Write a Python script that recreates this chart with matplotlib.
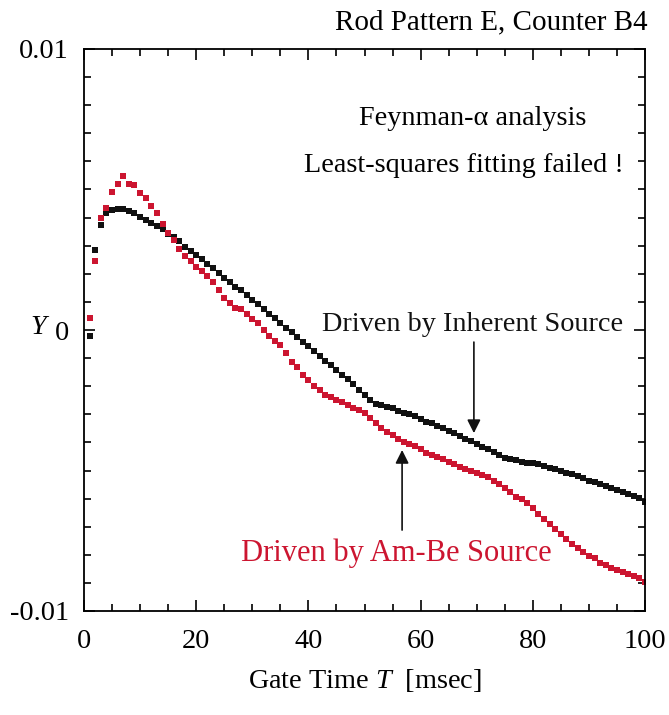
import matplotlib
matplotlib.use("Agg")
import matplotlib.pyplot as plt
from matplotlib.ticker import MultipleLocator, FixedLocator

plt.rcParams['font.family'] = ['Liberation Serif', 'DejaVu Serif']
plt.rcParams['mathtext.fontset'] = 'custom'
plt.rcParams['mathtext.it'] = 'Liberation Serif:italic'
plt.rcParams['mathtext.rm'] = 'Liberation Serif'

gate_time = list(range(1, 101))

y_inherent = [
    -0.0002, 0.00285, 0.00375, 0.00415, 0.00427, 0.0043, 0.0043, 0.00425, 0.00415, 0.00402,
    0.00392, 0.00381, 0.0037, 0.00358, 0.00343, 0.0033, 0.00315, 0.00297, 0.0028, 0.00268,
    0.00253, 0.00236, 0.0022, 0.00203, 0.00186, 0.0017, 0.00153, 0.00141, 0.00125, 0.00108,
    0.00091, 0.00075, 0.00058, 0.00042, 0.00025, 0.00008, -0.00008, -0.00025, -0.00042, -0.00058,
    -0.00075, -0.00091, -0.0011, -0.00126, -0.00142, -0.00159, -0.00175, -0.00193, -0.00214, -0.00231,
    -0.00249, -0.00265, -0.00267, -0.00273, -0.00279, -0.00288, -0.00297, -0.003, -0.00306, -0.00318,
    -0.00326, -0.00332, -0.00342, -0.0035, -0.0036, -0.00368, -0.00377, -0.00388, -0.00395, -0.00406,
    -0.00415, -0.00425, -0.00433, -0.00445, -0.00454, -0.00459, -0.00463, -0.00469, -0.00472, -0.00472,
    -0.00477, -0.00483, -0.0049, -0.00495, -0.00501, -0.00508, -0.00514, -0.0052, -0.00528, -0.00536,
    -0.00542, -0.00548, -0.00554, -0.00561, -0.00569, -0.00578, -0.00584, -0.00591, -0.00599, -0.00611,
]

y_ambe = [
    0.00042, 0.00247, 0.00397, 0.00435, 0.0049, 0.0052, 0.00548, 0.0052, 0.00515, 0.00486,
    0.0047, 0.00443, 0.00415, 0.00376, 0.00346, 0.0032, 0.0029, 0.00263, 0.00247, 0.00225,
    0.00209, 0.00191, 0.00171, 0.00141, 0.00113, 0.00096, 0.00079, 0.00075, 0.00057, 0.0004,
    0.00024, 0.00001, -0.00021, -0.00038, -0.00054, -0.00083, -0.00115, -0.00133, -0.00161, -0.00178,
    -0.002, -0.00214, -0.00231, -0.00237, -0.00249, -0.00258, -0.00267, -0.00279, -0.00285, -0.00297,
    -0.00314, -0.0033, -0.00348, -0.00364, -0.00374, -0.00389, -0.004, -0.00406, -0.00412, -0.00423,
    -0.00437, -0.00445, -0.00451, -0.0046, -0.00469, -0.00478, -0.00486, -0.00496, -0.00502, -0.00508,
    -0.00516, -0.00524, -0.00536, -0.00548, -0.00561, -0.00575, -0.00593, -0.00602, -0.00615, -0.00635,
    -0.00656, -0.00673, -0.0069, -0.00709, -0.00727, -0.00745, -0.00763, -0.00775, -0.00789, -0.00804,
    -0.00812, -0.00828, -0.00836, -0.00846, -0.00854, -0.00862, -0.00868, -0.00875, -0.00884, -0.00896,
]

x_ticks = [0, 20, 40, 60, 80, 100]
y_ticks = [-0.01, 0, 0.01]
y_tick_labels = ['-0.01', '0', '0.01']

BLACK = '#111111'
RED = '#cc1530'
FS = 20.3

fig = plt.figure(figsize=(6.69, 7.15), dpi=100)
ax = fig.add_axes([84/669, 1 - 611/715, (645-84)/669, (611-49)/715])

ax.plot(gate_time, y_inherent, 's', color=BLACK, markersize=3.7, markeredgewidth=0)
ax.plot(gate_time, y_ambe, 's', color=RED, markersize=3.7, markeredgewidth=0)

ax.set_xlim(0, 100)
ax.set_ylim(-0.01, 0.01)
ax.xaxis.set_major_locator(FixedLocator(x_ticks))
ax.xaxis.set_minor_locator(MultipleLocator(5))
ax.yaxis.set_major_locator(FixedLocator(y_ticks))
ax.yaxis.set_minor_locator(MultipleLocator(0.001))
ax.set_yticklabels(y_tick_labels)
ax.tick_params(which='both', direction='in', top=True, right=True, labelsize=FS, width=1.2)
ax.tick_params(which='major', length=8)
ax.tick_params(which='minor', length=5)
ax.tick_params(axis='x', pad=13)
ax.tick_params(axis='y', pad=11)
for s in ax.spines.values():
    s.set_linewidth(1.3)

ax.set_xlabel(r'Gate Time $T$  [msec]', fontsize=FS, labelpad=9)
fig.text(40/669, 1 - 327/715, r'$Y$', fontsize=FS, ha='center', va='center')

fig.text(648/669, 1 - 22/715, 'Rod Pattern E, Counter B4', fontsize=21, ha='right', va='center')

ax.text(69.3, 0.00754, 'Feynman-α analysis', fontsize=FS, ha='center', va='center')
ax.text(67.7, 0.00584, 'Least-squares fitting failed !', fontsize=FS, ha='center', va='center')
ax.text(69.2, 0.00018, 'Driven by Inherent Source', fontsize=FS, ha='center', va='center', color=BLACK)
ax.text(55.6, -0.00794, 'Driven by Am-Be Source', fontsize=22, ha='center', va='center', color=RED)

ax.annotate('', xy=(69.5, -0.00367), xytext=(69.5, -0.00043),
            arrowprops=dict(arrowstyle='-|>', color=BLACK, lw=1.2, mutation_scale=20,
                            shrinkA=0, shrinkB=0))
ax.annotate('', xy=(56.7, -0.00427), xytext=(56.7, -0.00712),
            arrowprops=dict(arrowstyle='-|>', color=BLACK, lw=1.2, mutation_scale=20,
                            shrinkA=0, shrinkB=0))

fig.savefig('out.png', dpi=100)
